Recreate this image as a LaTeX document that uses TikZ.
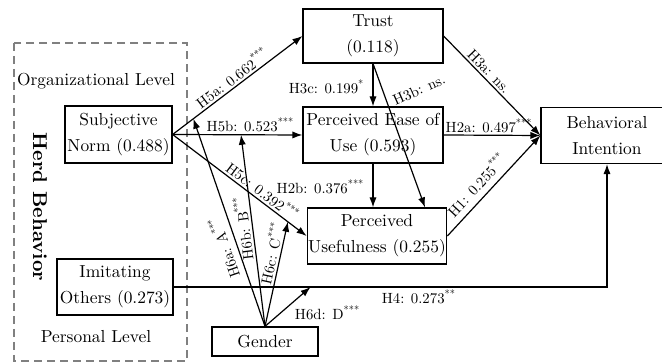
\documentclass[tikz,border=0pt]{standalone}
\usepackage{fontspec}
\setmainfont{lmroman10}[Extension=.otf, UprightFont=*-regular, BoldFont=*-bold]
\usetikzlibrary{arrows.meta}
\newcommand\stars[1]{\textsuperscript{#1}}

\begin{document}
\begin{tikzpicture}[x=0.5pt, y=0.5pt,
% node style
box/.style={rectangle, draw=black, line width=0.6pt, align=center, inner sep=0.5pt, font=\fontsize{8.7}{13}\selectfont},
lab/.style={font=\fontsize{7.4}{8}\selectfont, inner sep=1pt},
level/.style={font=\fontsize{8.7}{10}\selectfont},
arr/.style={-{Latex[length=5pt, width=3.6pt]}, line width=0.6pt}
]
\useasboundingbox (0,0) rectangle (662,-362);
\clip (0,0) rectangle (662,-362);

% herd behavior frame
\draw[black!50, line width=1pt, dash pattern=on 4pt off 2.5pt] (14,-43) rectangle (187,-361);
\node[level] (org_lvl) at (96,-81) {Organizational Level};
\node[level] (pers_lvl) at (96,-337) {Personal Level};
\node[font=\bfseries\fontsize{10}{12}\selectfont, rotate=-90] (herd) at (40,-207) {Herd Behavior};

% nodes
\node[box, minimum width=53.5pt, minimum height=28.5pt] (sn) at (118.5,-134.5) {Subjective\\Norm (0.488)};
\node[box, minimum width=58pt, minimum height=28pt] (io) at (115,-287) {Imitating\\Others (0.273)};
\node[box, minimum width=53pt, minimum height=14.5pt] (gender) at (265,-341.5) {Gender};
\node[box, minimum width=70pt, minimum height=27pt] (trust) at (373,-36) {Trust\\(0.118)};
\node[box, minimum width=70pt, minimum height=28pt] (peou) at (373,-135) {Perceived Ease of\\Use (0.593)};
\node[box, minimum width=69pt, minimum height=28pt] (pu) at (377,-236) {Perceived\\Usefulness (0.255)};
\node[box, minimum width=66pt, minimum height=28pt] (bi) at (607,-135.5) {Behavioral\\Intention};

% draw lines between nodes
\draw[arr] (sn.east) -- (trust.west) coordinate[pos=0.16] (h5a_pt)
  node[lab, sloped, above, pos=0.5] {H5a: 0.662\stars{***}};
\draw[arr] (sn.east) -- (peou.west) coordinate[pos=0.527] (h5b_pt)
  node[lab, above, pos=0.6] {H5b: 0.523\stars{***}};
\draw[arr] (sn.east) -- (pu.west) coordinate[pos=0.86] (h5c_pt)
  node[lab, sloped, above, pos=0.63] {H5c: 0.392\stars{***}};
\draw[arr] (trust.south) -- (peou.north) node[lab, left=3pt, pos=0.55] {H3c: 0.199\stars{*}};
\draw[arr] (trust.south) -- (pu.north -| 425,0);
\draw[arr] (trust.east) -- (bi.west) node[lab, sloped, above, pos=0.41] {H3a: ns.};
\draw[arr] (peou.east) -- (bi.west) node[lab, above, pos=0.47] {H2a: 0.497\stars{***}};
\draw[arr] (peou.south) -- (peou.south |- pu.north) node[lab, left=3pt, pos=0.53] {H2b: 0.376\stars{***}};
\draw[arr] (pu.east) -- (bi.west) node[lab, sloped, above=2pt, pos=0.42] {H1: 0.255\stars{***}};
\draw[arr] (io.east) -| (bi.south) coordinate[pos=0.158] (h4_pt)
  node[lab, below, pos=0.283] {H4: 0.273\stars{**}};
\node[lab, rotate=24] (lab_h3b) at (419,-90) {H3b: ns.};

% gender moderations
\draw[arr] (gender.north) -- (h5a_pt) node[lab, sloped, allow upside down, above=2pt, pos=0.4] {H6a: A\stars{***}};
\draw[arr] (gender.north) -- (h5b_pt) node[lab, sloped, allow upside down, above, pos=0.52] {H6b: B\stars{***}};
\draw[arr] (gender.north) -- (h5c_pt) node[lab, sloped, above, pos=0.68] {H6c: C\stars{***}};
\draw[arr] (gender.north) -- (h4_pt) node[lab, below right, pos=0.6] {H6d: D\stars{***}};

\end{tikzpicture}
\end{document}
